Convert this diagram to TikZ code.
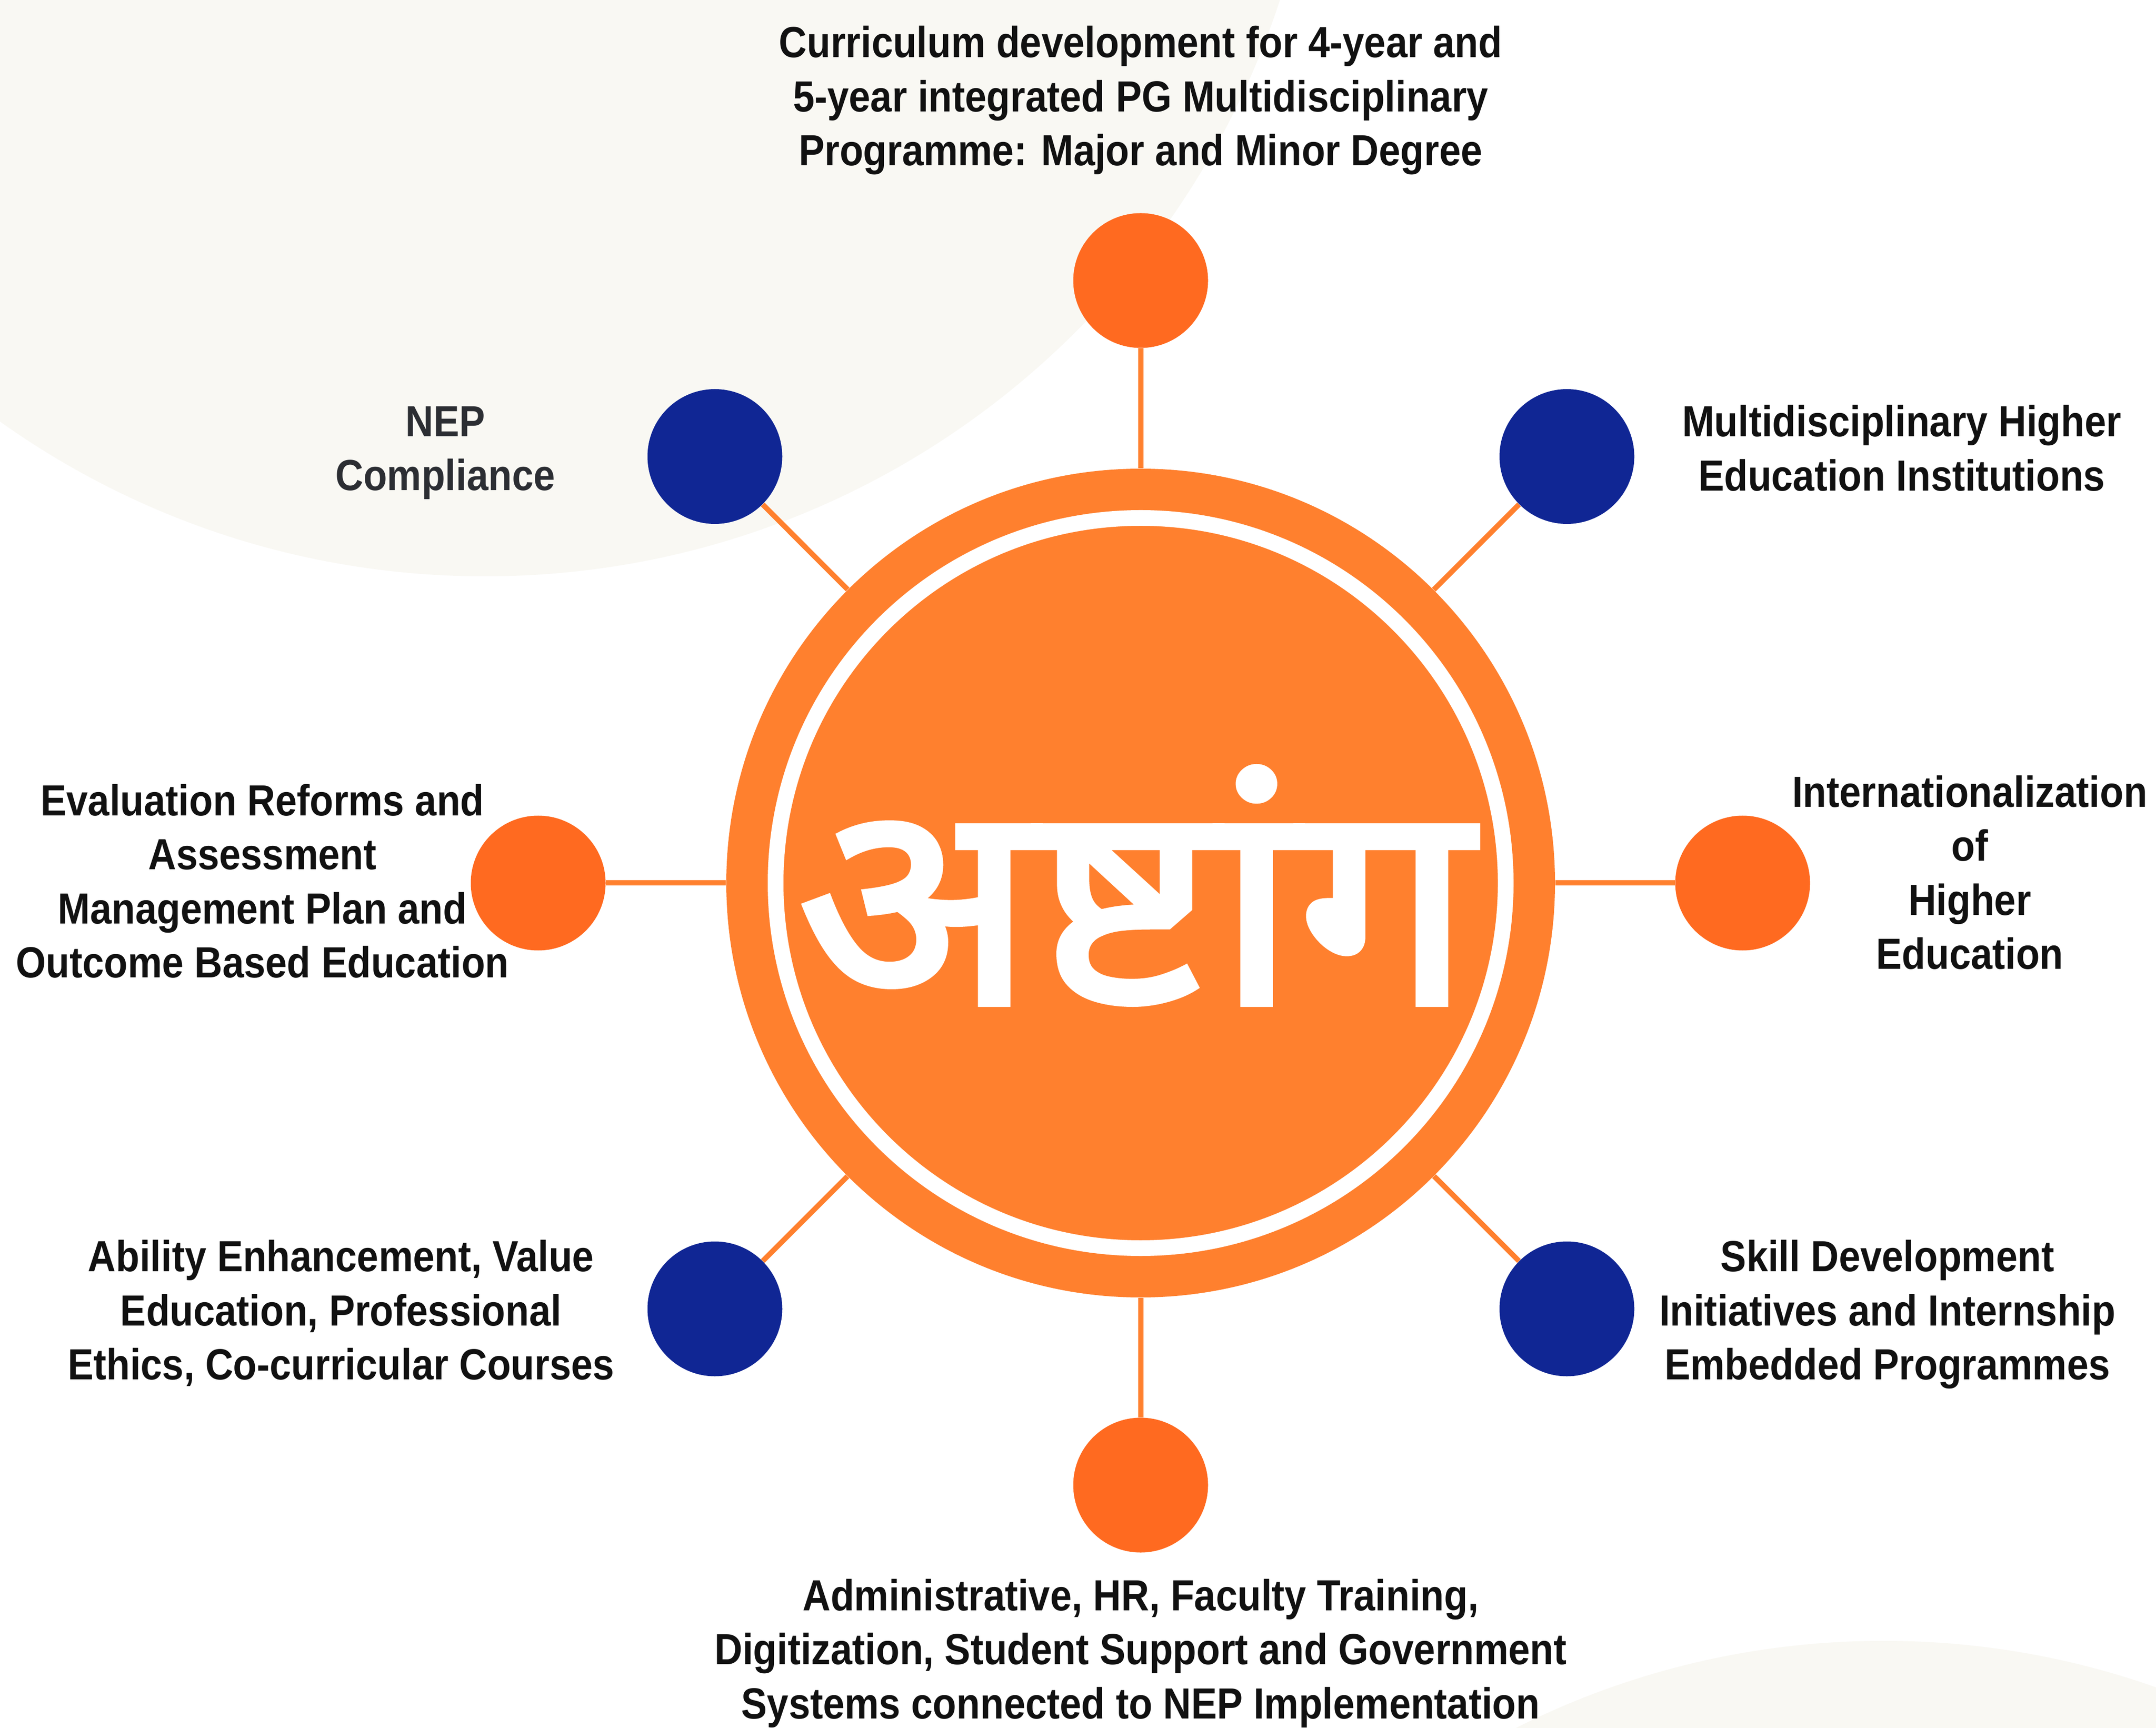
\documentclass[tikz,border=0pt]{standalone}
\usepackage{fontspec}
\setmainfont{Liberation Sans}
\newfontfamily\devafont[Script=Devanagari]{Noto Sans}
\definecolor{hubor}{HTML}{FF802E}
\definecolor{satorg}{HTML}{FF6A20}
\definecolor{satnavy}{HTML}{102694}
\definecolor{bgtint}{HTML}{F9F8F3}
\definecolor{inkdark}{HTML}{111111}
\definecolor{inkgray}{HTML}{2C2E33}
\tikzset{
  hubdisc/.style={circle,fill=hubor,inner sep=0pt,minimum size=17.4cm},
  orangesat/.style={circle,fill=satorg,inner sep=0pt,minimum size=2.83cm},
  navysat/.style={circle,fill=satnavy,inner sep=0pt,minimum size=2.83cm},
  linkline/.style={draw=hubor,line width=0.11cm},
  caption/.style={align=center,inner sep=0pt,text=inkdark,xscale=0.89,transform shape,font=\fontsize{26}{32.3}\selectfont\bfseries},
  bgblob/.style={fill=bgtint,draw=none}
}
\begin{document}
\begin{tikzpicture}
\path[use as bounding box] (0,0) rectangle (45.27,36.27);
\fill[white] (0,0) rectangle (45.27,36.27);
\begin{scope}
\clip (0,0) rectangle (45.27,36.27);
\path[bgblob] (10.18,41.73) circle (17.56);
\path[bgblob] (39.55,-15.34) circle (17.16);
\end{scope}
\node[hubdisc] (hub) at (23.95,17.73) {};
\node[orangesat] (top) at (23.95,30.38) {};
\node[navysat] (tl) at (15.01,26.685) {};
\node[navysat] (tr) at (32.90,26.685) {};
\node[orangesat] (lf) at (11.30,17.73) {};
\node[orangesat] (rt) at (36.59,17.73) {};
\node[navysat] (bl) at (15.01,8.79) {};
\node[navysat] (br) at (32.90,8.79) {};
\node[orangesat] (bt) at (23.95,5.09) {};
\foreach \s in {top,tl,tr,lf,rt,bl,br,bt} \draw[linkline] (\s) -- (hub);
\node[circle,draw=white,line width=0.33cm,inner sep=0pt,minimum size=15.33cm] (ring) at (hub) {};
\node[inner sep=0pt,text=white,xscale=1.094,transform shape,font=\fontsize{170}{170}\selectfont\bfseries] (word) at (23.82,17.68) {\special{pdf:code 2 Tr 4 w 1 G}\devafont अष्टांग\special{pdf:code 0 Tr 1 w}};
\node[caption] (ttop) at (23.95,34.16) {Curriculum development for 4-year and\\5-year integrated PG Multidisciplinary\\Programme: Major and Minor Degree};
\node[caption,text=inkgray] (ttl) at (9.35,26.76) {NEP\\Compliance};
\node[caption] (ttr) at (39.93,26.86) {Multidisciplinary Higher\\Education Institutions};
\node[caption] (tlf) at (5.51,17.77) {Evaluation Reforms and\\Assessment\\Management Plan and\\Outcome Based Education};
\node[caption] (trt) at (41.36,17.95) {Internationalization\\of\\Higher\\Education};
\node[caption] (tbl) at (7.16,8.70) {Ability Enhancement, Value\\Education, Professional\\Ethics, Co-curricular Courses};
\node[caption] (tbr) at (39.63,8.67) {Skill Development\\Initiatives and Internship\\Embedded Programmes};
\node[caption] (tbt) at (23.95,1.56) {Administrative, HR, Faculty Training,\\Digitization, Student Support and Government\\Systems connected to NEP Implementation};
\end{tikzpicture}
\end{document}
